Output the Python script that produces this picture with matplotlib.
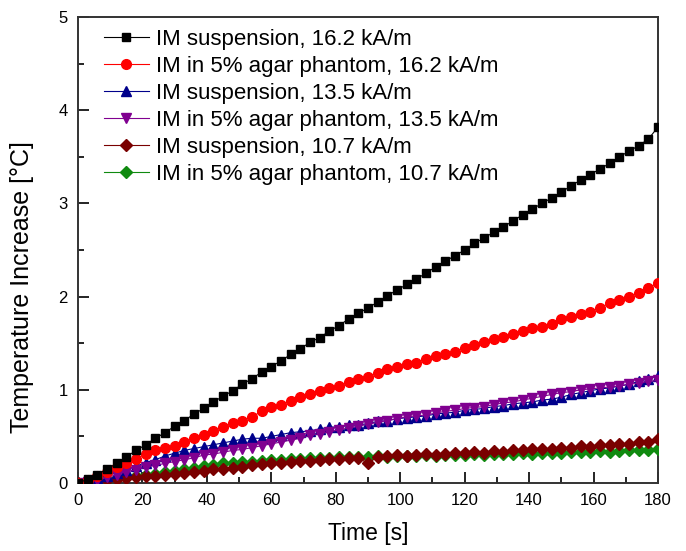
import numpy as np
import matplotlib
matplotlib.use("Agg")
import matplotlib.pyplot as plt
from matplotlib.ticker import MultipleLocator

plt.rcParams["font.family"] = ["Liberation Sans", "DejaVu Sans"]

# sampling times [s]
time = np.arange(0, 181, 3)

susp_162 = [0.00, 0.04, 0.09, 0.15, 0.21, 0.28, 0.35, 0.41, 0.48, 0.54,
            0.61, 0.67, 0.74, 0.80, 0.87, 0.93, 0.99, 1.06, 1.12, 1.19,
            1.25, 1.31, 1.38, 1.44, 1.51, 1.56, 1.63, 1.69, 1.76, 1.82,
            1.88, 1.94, 2.01, 2.07, 2.13, 2.19, 2.25, 2.32, 2.38, 2.44,
            2.50, 2.57, 2.63, 2.69, 2.75, 2.81, 2.88, 2.94, 3.00, 3.06,
            3.12, 3.19, 3.25, 3.31, 3.37, 3.43, 3.50, 3.56, 3.62, 3.69,
            3.82]
agar_162 = [0.00, 0.03, 0.07, 0.12, 0.17, 0.21, 0.26, 0.31, 0.35, 0.38,
            0.40, 0.44, 0.48, 0.52, 0.56, 0.60, 0.64, 0.67, 0.71, 0.77,
            0.82, 0.84, 0.88, 0.92, 0.95, 0.99, 1.02, 1.04, 1.08, 1.12,
            1.14, 1.18, 1.22, 1.25, 1.28, 1.29, 1.33, 1.36, 1.38, 1.41,
            1.45, 1.48, 1.51, 1.54, 1.57, 1.60, 1.63, 1.66, 1.67, 1.71,
            1.76, 1.78, 1.81, 1.84, 1.88, 1.93, 1.96, 2.00, 2.04, 2.09,
            2.15]
susp_135 = [0.00, 0.02, 0.05, 0.08, 0.11, 0.14, 0.18, 0.22, 0.25, 0.29,
            0.32, 0.35, 0.37, 0.39, 0.41, 0.43, 0.45, 0.47, 0.48, 0.48,
            0.50, 0.52, 0.54, 0.55, 0.56, 0.58, 0.60, 0.60, 0.62, 0.62,
            0.64, 0.66, 0.67, 0.69, 0.70, 0.71, 0.72, 0.74, 0.75, 0.76,
            0.78, 0.79, 0.80, 0.82, 0.83, 0.85, 0.86, 0.87, 0.89, 0.90,
            0.92, 0.95, 0.97, 0.99, 1.01, 1.02, 1.04, 1.06, 1.09, 1.12,
            1.15]
agar_135 = [0.00, 0.01, 0.03, 0.06, 0.09, 0.12, 0.14, 0.17, 0.19, 0.21,
            0.23, 0.25, 0.27, 0.30, 0.31, 0.33, 0.35, 0.36, 0.38, 0.40,
            0.42, 0.44, 0.46, 0.48, 0.51, 0.53, 0.55, 0.57, 0.59, 0.61,
            0.63, 0.65, 0.67, 0.69, 0.71, 0.72, 0.73, 0.75, 0.77, 0.78,
            0.80, 0.81, 0.82, 0.84, 0.86, 0.87, 0.89, 0.91, 0.93, 0.95,
            0.97, 0.98, 1.00, 1.01, 1.02, 1.03, 1.04, 1.06, 1.07, 1.09,
            1.10]
susp_107 = [0.00, 0.01, 0.02, 0.03, 0.04, 0.05, 0.06, 0.07, 0.08, 0.09,
            0.10, 0.11, 0.12, 0.13, 0.15, 0.15, 0.16, 0.17, 0.19, 0.20,
            0.21, 0.21, 0.23, 0.24, 0.24, 0.25, 0.26, 0.26, 0.27, 0.27,
            0.21, 0.28, 0.29, 0.30, 0.29, 0.30, 0.31, 0.30, 0.31, 0.32,
            0.32, 0.33, 0.32, 0.34, 0.33, 0.35, 0.35, 0.36, 0.36, 0.37,
            0.38, 0.38, 0.40, 0.39, 0.41, 0.41, 0.42, 0.42, 0.44, 0.44,
            0.47]
agar_107 = [0.00, 0.01, 0.02, 0.03, 0.05, 0.06, 0.07, 0.09, 0.10, 0.12,
            0.13, 0.15, 0.16, 0.18, 0.19, 0.21, 0.22, 0.23, 0.23, 0.24,
            0.25, 0.25, 0.26, 0.26, 0.27, 0.27, 0.27, 0.28, 0.28, 0.28,
            0.28, 0.29, 0.28, 0.29, 0.29, 0.29, 0.30, 0.29, 0.30, 0.30,
            0.30, 0.31, 0.30, 0.31, 0.31, 0.31, 0.32, 0.31, 0.32, 0.32,
            0.32, 0.33, 0.33, 0.33, 0.34, 0.33, 0.34, 0.35, 0.35, 0.35,
            0.36]

labels = ["IM suspension, 16.2 kA/m",
          "IM in 5% agar phantom, 16.2 kA/m",
          "IM suspension, 13.5 kA/m",
          "IM in 5% agar phantom, 13.5 kA/m",
          "IM suspension, 10.7 kA/m",
          "IM in 5% agar phantom, 10.7 kA/m"]

fig = plt.figure(figsize=(6.86, 5.51), dpi=100)
ax = fig.add_axes([0.1137, 0.1234, 0.8455, 0.8457])

# series: data, marker, marker size, color, zorder
series = [
    (susp_162, "s", 6.0, "black", 8),
    (agar_162, "o", 7.0, "#ff0000", 7),
    (susp_135, "^", 7.6, "#00008b", 5),
    (agar_135, "v", 7.6, "#800090", 6),
    (susp_107, "D", 6.5, "#7a0000", 4),
    (agar_107, "D", 6.5, "#108a10", 3),
]

for (y, mk, ms, col, z), lab in zip(series, labels):
    ax.plot(time, y, marker=mk, color=col, markersize=ms, linewidth=0.8,
            label=lab, zorder=z)

ax.set_xlim(0, 180)
ax.set_ylim(0, 5)
ax.xaxis.set_major_locator(MultipleLocator(20))
ax.xaxis.set_minor_locator(MultipleLocator(10))
ax.yaxis.set_major_locator(MultipleLocator(1))
ax.yaxis.set_minor_locator(MultipleLocator(0.5))
ax.tick_params(which="both", direction="in", top=False, right=False,
               labelsize=12, width=1.2, pad=7.5)
ax.tick_params(which="major", length=8)
ax.tick_params(which="minor", length=4.5)
for sp in ax.spines.values():
    sp.set_linewidth(1.4)
    sp.set_color("#333333")

ax.set_xlabel("Time [s]", fontsize=16.5, labelpad=10)
ax.set_ylabel("Temperature Increase [°C]", fontsize=18)
ax.yaxis.set_label_coords(-0.075, 0.42)

ax.legend(loc="upper left", bbox_to_anchor=(0.045, 0.975), frameon=False,
          fontsize=16, handlelength=2.0, handletextpad=0.33,
          labelspacing=0.27, borderaxespad=0, borderpad=0)

fig.savefig("out.png", dpi=100)
